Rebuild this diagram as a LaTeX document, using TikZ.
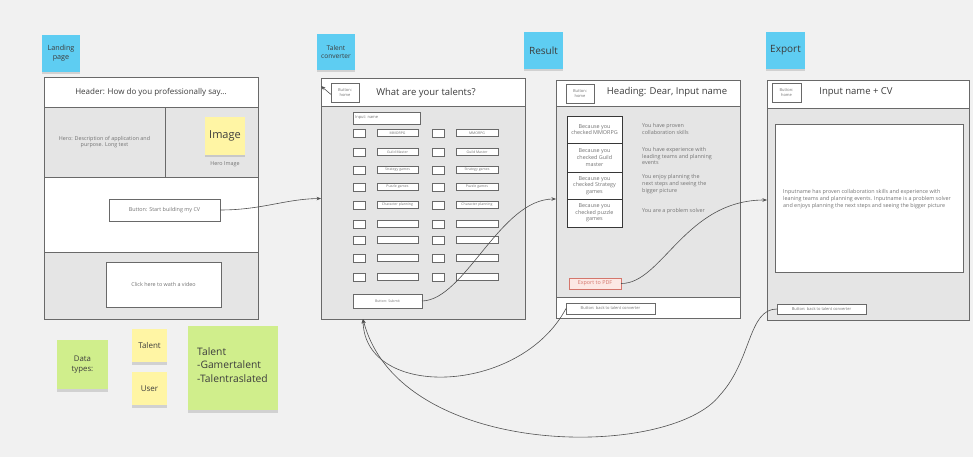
\documentclass[tikz,border=0pt]{standalone}
\usepackage{fontspec}
\setmainfont{Open Sans}
\usetikzlibrary{arrows.meta,shadows,calc}

\definecolor{bgc}{RGB}{241,241,241}
\definecolor{framec}{RGB}{105,105,105}
\definecolor{boxc}{RGB}{55,55,55}
\definecolor{panelc}{RGB}{229,229,229}
\definecolor{inkc}{RGB}{60,60,60}
\definecolor{faintc}{RGB}{115,115,115}
\definecolor{linkc}{RGB}{80,80,80}
\definecolor{noteblue}{RGB}{94,205,242}
\definecolor{noteyellow}{RGB}{255,245,164}
\definecolor{notegreen}{RGB}{208,238,140}
\definecolor{pdfred}{RGB}{212,118,108}
\definecolor{pdffill}{RGB}{252,232,228}

% font sizes
\newcommand{\fhd}{\fontsize{9.5}{11}\selectfont}
\newcommand{\fhl}{\fontsize{8}{10}\selectfont}
\newcommand{\fsm}{\fontsize{5.4}{6.6}\selectfont}
\newcommand{\fxs}{\fontsize{4}{4.8}\selectfont}
\newcommand{\ftn}{\fontsize{3.5}{4.2}\selectfont}

% rectangle node given by its corners: name, x1, y1, x2, y2, style, text
\newcommand{\rectnode}[7]{%
  \pgfmathsetmacro{\rnW}{(#4)-(#2)}%
  \pgfmathsetmacro{\rnH}{(#5)-(#3)}%
  \pgfmathsetmacro{\rnX}{((#2)+(#4))/2}%
  \pgfmathsetmacro{\rnY}{((#3)+(#5))/2}%
  \node[#6, minimum width=\rnW pt, minimum height=\rnH pt] (#1) at (\rnX,\rnY) {#7};}

\tikzset{
  wire/.style={draw=framec, line width=0.9pt, inner sep=0pt, outer sep=0pt},
  gpanel/.style={wire, fill=panelc},
  wpanel/.style={wire, fill=white},
  ctl/.style={draw=framec, line width=0.7pt, fill=white, inner sep=0pt, outer sep=0pt,
              text=faintc, align=center},
  reason/.style={draw=boxc, line width=0.9pt, fill=white, inner sep=0pt, outer sep=0pt,
                 text=faintc, align=center, font=\fsm},
  note/.style={inner sep=0pt, outer sep=0pt, align=center, text=inkc,
               drop shadow={shadow xshift=0pt, shadow yshift=-2.5pt, opacity=0.28}},
  caption/.style={inner sep=0pt, text=faintc, font=\fsm, align=left},
  link/.style={draw=linkc, line width=0.6pt, -{Stealth[length=4.5pt,width=3.5pt]}},
}

\begin{document}
\begin{tikzpicture}[x=1pt, y=-1pt]
\useasboundingbox (0,0) rectangle (973,457);
\fill[bgc] (0,0) rectangle (973,457);

% ---------------- Landing page ----------------
\rectnode{lp}{44}{77}{258}{319}{gpanel}{}
\rectnode{lphead}{44}{77}{258}{107}{wpanel, font=\fhl, text=inkc}{Header: How do you professionally say...}
\rectnode{lpheroL}{44}{107}{165}{177}{gpanel, font=\fsm, text=faintc, align=center}{Hero: Description of application and\\purpose. Long text}
\rectnode{lpheroR}{165}{107}{258}{177}{gpanel}{}
\rectnode{lpimg}{205}{117}{245}{155}{note, fill=noteyellow, font=\fontsize{11}{13}\selectfont}{Image}
\node[caption] (lpimgcap) at (225,164) {Hero Image};
\rectnode{lpmid}{44}{177}{258}{252}{wpanel}{}
\rectnode{lpstart}{109}{199}{220}{221}{ctl, font=\fsm}{Button: Start building my CV}
\rectnode{lpvideo}{106}{262}{221}{307}{ctl, font=\fsm}{Click here to wath a video}

% ---------------- Talent converter ----------------
\rectnode{tc}{321}{78}{525}{319}{gpanel}{}
\rectnode{tchead}{321}{78}{525}{106}{wpanel}{}
\rectnode{tchome}{331}{83}{359}{102}{ctl, font=\fxs}{Button:\\home}
\node[font=\fhd, text=inkc, inner sep=0pt] (tctitle) at (426,93) {What are your talents?};
\rectnode{tcname}{353}{112}{420}{124}{ctl}{}
\node[caption, font=\fxs, anchor=west] (tcnamelbl) at ([xshift=2pt]tcname.west) {Input: name};
\foreach \yy/\lab [count=\i] in {133/MMORPG, 152/Guild Master, 170/Strategy games,
    187/Puzzle games, 205/Character planning, 224/{}, 240/{}, 258/{}, 277/{}} {
  \node[ctl, minimum width=12pt, minimum height=8pt] (cbl\i) at (359,\yy) {};
  \node[ctl, minimum width=41pt, minimum height=7pt, font=\ftn] (lbl\i) at (397.5,\yy) {\lab};
  \node[ctl, minimum width=12pt, minimum height=8pt] (cbr\i) at (438.5,\yy) {};
  \node[ctl, minimum width=42pt, minimum height=7pt, font=\ftn] (lbr\i) at (477,\yy) {\lab};
}
\rectnode{tcsubmit}{353}{294}{422}{308}{ctl, font=\ftn}{Button: Submit}

% ---------------- Result ----------------
\rectnode{rs}{556}{80}{740}{318}{gpanel}{}
\rectnode{rshead}{556}{80}{740}{106}{wpanel}{}
\rectnode{rsfoot}{556}{297}{740}{318}{wpanel}{}
\rectnode{rshome}{566}{84}{594}{103}{ctl, font=\fxs}{Button:\\home}
\node[font=\fhd, text=inkc, inner sep=0pt] (rstitle) at (667,92) {Heading: Dear, Input name};
\rectnode{rsb1}{567}{116}{622}{143}{reason}{Because you\\checked MMORPG}
\rectnode{rsb2}{567}{143}{622}{172}{reason}{Because you\\checked Guild\\master}
\rectnode{rsb3}{567}{172}{622}{199}{reason}{Because you\\checked Strategy\\games}
\rectnode{rsb4}{567}{199}{622}{227}{reason}{Because you\\checked puzzle\\games}
\node[caption, anchor=west] (rst1) at (642,129) {You have proven\\collaboration skills};
\node[caption, anchor=west] (rst2) at (642,156) {You have experience with\\leading teams and planning\\events};
\node[caption, anchor=west] (rst3) at (642,184) {You enjoy planning the\\next steps and seeing the\\bigger picture};
\node[caption, anchor=west] (rst4) at (642,211) {You are a problem solver};
\rectnode{rspdf}{569}{278}{621}{289}{ctl, draw=pdfred, fill=pdffill, text=pdfred, font=\fsm}{Export to PDF}
\rectnode{rsback}{566}{303}{655}{314}{ctl, font=\fxs}{Button: back to talent converter}

% ---------------- Export ----------------
\rectnode{ex}{767}{80}{969}{320}{gpanel}{}
\rectnode{exhead}{767}{80}{969}{108}{wpanel}{}
\rectnode{exhome}{772}{83}{801}{102}{ctl, font=\fxs}{Button:\\home}
\node[font=\fhd, text=inkc, inner sep=0pt] (extitle) at (856,92) {Input name + CV};
\rectnode{exdoc}{775}{124}{963}{272}{wpanel}{}
\node[caption, anchor=west] (exbody) at (783,199) {Inputname has proven collaboration skills and experience with\\leaning teams and planning events. Inputname is a problem solver\\and enjoys planning the next steps and seeing the bigger picture};
\rectnode{exback}{777}{304}{866}{314}{ctl, font=\fxs}{Button: back to talent converter}

% ---------------- Page labels ----------------
\rectnode{lpnote}{42}{35}{80}{72}{note, fill=noteblue, font=\fontsize{7.2}{9}\selectfont}{Landing\\page}
\rectnode{tcnote}{317}{34}{355}{70}{note, fill=noteblue, font=\fontsize{6.6}{8.4}\selectfont}{Talent\\converter}
\rectnode{rsnote}{524}{32}{563}{69}{note, fill=noteblue, font=\fontsize{10}{12}\selectfont}{Result}
\rectnode{exnote}{766}{32}{805}{69}{note, fill=noteblue, font=\fontsize{10}{12}\selectfont}{Export}

% ---------------- Data types ----------------
\rectnode{dtnote}{57}{340}{108}{389}{note, fill=notegreen, font=\fontsize{7.8}{10.5}\selectfont}{Data\\types:}
\rectnode{dttalent}{132}{329}{167}{362}{note, fill=noteyellow, font=\fontsize{8}{10}\selectfont}{Talent}
\rectnode{dtuser}{132}{372}{167}{405}{note, fill=noteyellow, font=\fontsize{8}{10}\selectfont}{User}
\rectnode{dtbig}{188}{326}{278}{410}{note, fill=notegreen}{}
\node[inner sep=0pt, anchor=north west, align=left, text=inkc,
      font=\fontsize{10.3}{13.5}\selectfont] (dtbigtxt) at (197,347)
      {Talent\\-Gamertalent\\-Talentraslated};

% ---------------- Connectors ----------------
\coordinate (tcret) at ([xshift=42pt]tc.south west);
\draw[link] (lpstart.east) .. controls (262,210) and (285,199) .. (tc.west);
\draw[link] ([yshift=-2pt]tchome.west) -- ([yshift=-8pt]tc.north west);
\draw[link] (tcsubmit.east) .. controls (465,300) and (500,199) .. (rs.west);
\draw[link] (rspdf.east) .. controls (662,284) and (685,200) .. (ex.west);
\draw[link] (rsback.west) .. controls (520,395) and (365,400) .. (tcret);
\draw[link] (exback.west) .. controls (748,309) and (752,360) .. (720,395)
            .. controls (670,460) and (400,460) .. (tcret);
\end{tikzpicture}
\end{document}
